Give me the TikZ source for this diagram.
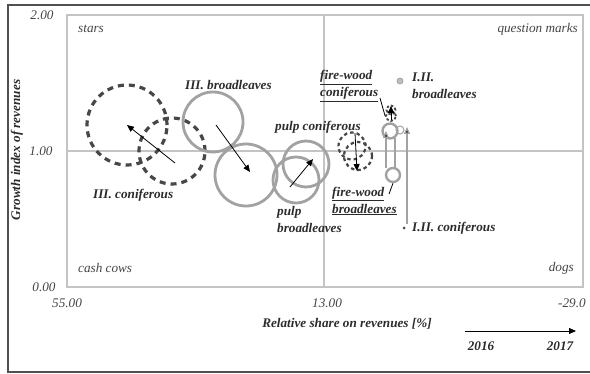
\documentclass[tikz,border=0pt]{standalone}
\usepackage{fontspec}
\setmainfont{Liberation Serif}
\usetikzlibrary{arrows.meta}
\definecolor{txt}{HTML}{2B2B2B}
\definecolor{soft}{HTML}{444444}
\definecolor{gridc}{HTML}{C4C4C4}
\definecolor{gc}{HTML}{A2A2A2}
\definecolor{dc}{HTML}{474747}
\definecolor{framec}{HTML}{505050}
\begin{document}
\begin{tikzpicture}[x=1pt,y=-1pt,
 lbl/.style={font=\fontsize{13.2}{17}\selectfont\bfseries\itshape,text=txt,inner sep=0pt,align=left},
 quad/.style={font=\fontsize{13.2}{15}\selectfont\itshape,text=soft,inner sep=0pt},
 tick/.style={font=\fontsize{13.2}{15}\selectfont\itshape,text=soft,inner sep=0pt},
 gring/.style={circle,draw=gc,line width=2.8pt,inner sep=0pt},
 dring/.style={circle,draw=dc,line width=3.2pt,dash pattern=on 6pt off 5pt,inner sep=0pt},
 sring/.style={circle,draw=dc,line width=2.2pt,dash pattern=on 3.5pt off 3pt,inner sep=0pt},
 arr/.style={-{Triangle[length=7pt,width=6pt]},line width=0.8pt,draw=black},
 garr/.style={-{Triangle[length=6pt,width=6pt]},line width=1.3pt,draw=gc},
]
\useasboundingbox (0,0) rectangle (590,374);
% outer frame (cut at right)
\draw[framec,line width=1.5pt] (592,5) -- (8,5) -- (8,372) -- (592,372);
% plot area
\draw[gridc,line width=1.2pt] (67,15) rectangle (583,287);
\draw[gridc,line width=1.2pt] (324,15) -- (324,287);
\draw[gridc,line width=1.2pt] (67,151) -- (583,151);

% quadrant labels
\node[quad,anchor=west] (qs) at (78,29) {stars};
\node[quad,anchor=east] (qq) at (578,29) {question marks};
\node[quad,anchor=west] (qc) at (78,268) {cash cows};
\node[quad,anchor=east] (qd) at (574,268) {dogs};

% ticks
\node[tick] (y2) at (42,15) {2.00};
\node[tick] (y1) at (41,151) {1.00};
\node[tick] (y0) at (44,287) {0.00};
\node[tick] (x55) at (67,303) {55.00};
\node[tick] (x13) at (327,303) {13.00};
\node[tick,anchor=west] (x29) at (558,303) {-29.0};

% axis titles
\node[lbl,rotate=90] (yt) at (17,150) {Growth index of revenues};
\node[lbl] (xt) at (347,324) {Relative share on revenues [\%]};

% legend
\coordinate (lg1) at (465,331);
\coordinate (lg2) at (576,331);
\draw[arr] (lg1) -- (lg2);
\node[lbl] (l16) at (481,346) {2016};
\node[lbl] (l17) at (560,346) {2017};

% III. coniferous
\node[dring,minimum size=80pt] (c17) at (127,125) {};
\node[dring,minimum size=66pt] (c16) at (172,151) {};
\coordinate (c16a) at (175,163);
\draw[arr] (c16a) -- (c17.center);
\node[lbl,anchor=west] (lc) at (93,195) {III. coniferous};

% III. broadleaves
\node[gring,minimum size=60pt] (b16) at (213,122) {};
\node[gring,minimum size=62pt] (b17) at (246,175) {};
\coordinate (b16a) at (216,125);
\coordinate (b17a) at (250,172);
\draw[arr] (b16a) -- (b17a);
\node[lbl,anchor=west] (lb) at (185,85) {III. broadleaves};

% pulp broadleaves
\node[gring,minimum size=46pt] (p17) at (306,164) {};
\node[gring,minimum size=46pt] (p16) at (296,180) {};
\coordinate (p16a) at (290,187);
\coordinate (p17a) at (313,159);
\draw[arr] (p16a) -- (p17a);
\node[lbl,anchor=west] (lpb) at (277,219) {pulp\\broadleaves};

% pulp coniferous
\node[sring,minimum size=27pt] (pc16) at (352,146) {};
\node[sring,minimum size=28pt] (pc17) at (358,156) {};
\coordinate (pc16a) at (355,133);
\coordinate (pc17a) at (357,171);
\draw[arr] (pc16a) -- (pc17a);
\node[lbl,anchor=west] (lpc) at (275,127) {pulp coniferous};

% fire-wood coniferous
\node[sring,line width=1.8pt,dash pattern=on 2.5pt off 2pt,minimum size=10pt] (fc16) at (391,116) {};
\node[sring,line width=1.8pt,dash pattern=on 2.5pt off 2pt,minimum size=9pt] (fc17) at (391,110) {};
\coordinate (fc16a) at (391,120);
\coordinate (fc17a) at (391,106);
\draw[arr] (fc16a) -- (fc17a);
\node[lbl,anchor=west] (lfc) at (320,86) {\underline{fire-wood}\\\underline{coniferous}};
\coordinate (lfcL) at (380,98);
\draw[line width=0.8pt,black] (lfcL) -- (fc16.west);

% I.II. broadleaves
\node[circle,fill=gc!70,draw=gc,line width=0.8pt,minimum size=6pt,inner sep=0pt] (ib) at (400,81) {};
\node[lbl,anchor=west] (lib) at (412,86) {I.II.\\broadleaves};

% fire-wood broadleaves
\node[gring,line width=2.4pt,minimum size=14pt] (fb16) at (393,175) {};
\node[gring,line width=2.4pt,minimum size=15pt] (fb17) at (390,131) {};
\coordinate (fbL1) at (386,168);
\coordinate (fbU1) at (386,131);
\coordinate (fbL2) at (395,168);
\coordinate (fbU2) at (395,138);
\draw[garr,-{Triangle[length=7pt,width=6pt,fill=black]}] (fbL1) -- (fbU1);
\draw[line width=1.3pt,gc] (fbL2) -- (fbU2);
\node[lbl,anchor=west] (lfb) at (332,201) {\underline{fire-wood}\\\underline{broadleaves}};
\coordinate (lfbL) at (389,194);
\draw[line width=0.8pt,black] (lfbL) -- (fb16.south);

% I.II. coniferous
\node[circle,draw=gc,line width=1pt,minimum size=8pt,inner sep=0pt] (ic17) at (400,130) {};
\node[circle,fill=dc,minimum size=3pt,inner sep=0pt] (ic16) at (404,228) {};
\coordinate (icL) at (407,224);
\coordinate (icU) at (407,127);
\draw[garr,-{Triangle[length=7pt,width=6pt,fill=black]}] (icL) -- (icU);
\node[lbl,anchor=west] (lic) at (412,228) {I.II. coniferous};
\end{tikzpicture}
\end{document}
